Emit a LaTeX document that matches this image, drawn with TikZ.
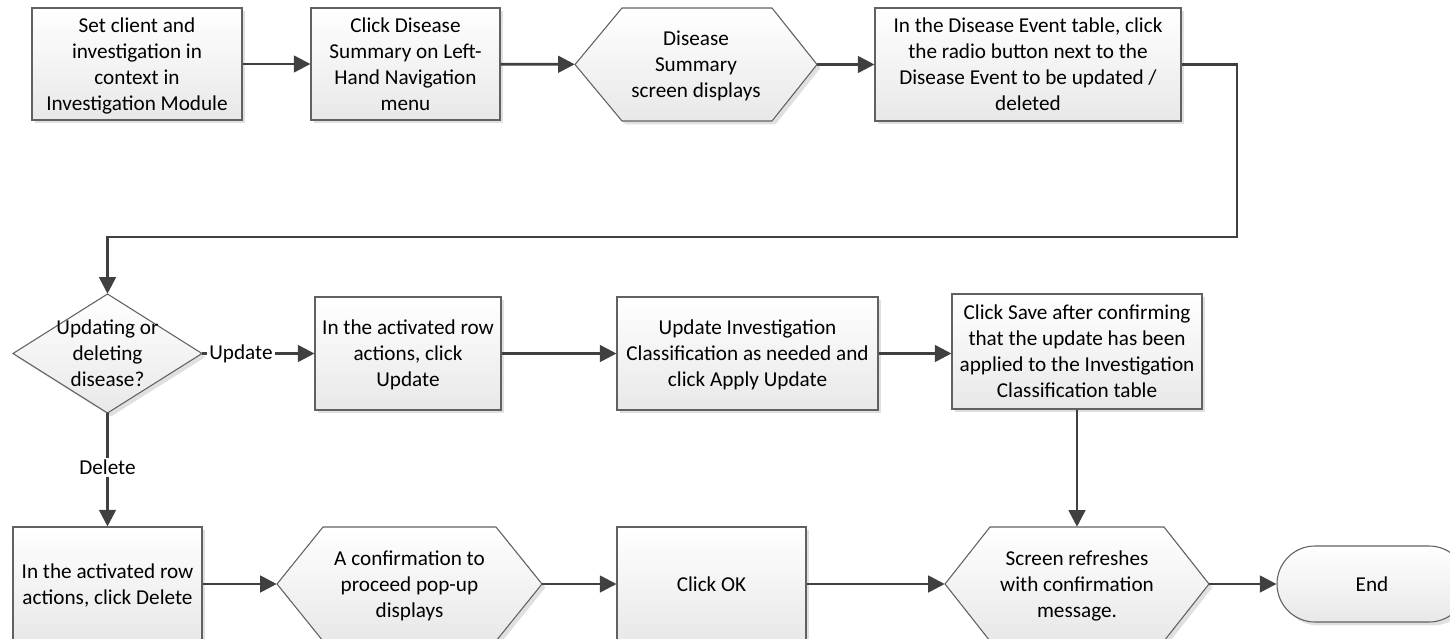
\documentclass[tikz,border=0pt]{standalone}
\usepackage{fontspec}
\setmainfont{Carlito}
\usetikzlibrary{arrows.meta,shadows}

\begin{document}
\begin{tikzpicture}[x=0.75pt,y=-0.75pt,
  every node/.style={font=\fontsize{15.9}{19.5}\selectfont, align=center, inner sep=0pt, text depth=0pt},
  shapefill/.style={draw=black!62, line width=0.8pt, top color=white, bottom color=black!9,
     drop shadow={shadow xshift=2.6pt, shadow yshift=-2.6pt, fill=black!12, opacity=1}},
  box/.style={shapefill, rectangle},
  sz/.style 2 args={minimum width=#1, minimum height=#2},
  flow/.style={draw=black!75, line width=2.1pt, -{Triangle[length=12.5pt,width=12.5pt]}},
  lbl/.style={fill=white, inner sep=1.5pt, text depth=},
]
\useasboundingbox (0,0) rectangle (1450,639);
\clip (0,0) rectangle (1450,639);
\fill[white] (0,0) rectangle (1450,639);

% ---- top row ----
\node[box, sz={157.5pt}{84pt}] (set) at (137,64) {Set client and\\investigation in\\context in\\Investigation Module};
\node[box, sz={141.75pt}{84pt}] (menu) at (405.5,64) {Click Disease\\Summary on Left-\\Hand Navigation\\menu};
\path[shapefill] (575,64.5) -- (622,8) -- (772,8) -- (817,64.5) -- (772,121) -- (622,121) -- cycle;
\node[sz={181.5pt}{84.75pt}] (sumscr) at (696,64.5) {Disease\\Summary\\screen displays};
\node[box, sz={229.5pt}{84.75pt}] (radio) at (1028,64.5) {In the Disease Event table, click\\the radio button next to the\\Disease Event to be updated /\\deleted};

% ---- decision and update branch ----
\path[shapefill] (13,353.5) -- (107.5,294) -- (202,353.5) -- (107.5,413) -- cycle;
\node[sz={141.75pt}{89.25pt}] (choice) at (107.5,353.5) {Updating or\\deleting\\disease?};
\node[box, sz={139.5pt}{84.75pt}] (actupd) at (408,353.5) {In the activated row\\actions, click\\Update};
\node[box, sz={195.75pt}{84.75pt}] (apply) at (747.5,353.5) {Update Investigation\\Classification as needed and\\click Apply Update};
\node[box, sz={187.5pt}{86.25pt}] (save) at (1077,351.5) {Click Save after confirming\\that the update has been\\applied to the Investigation\\Classification table};

% ---- delete branch and end ----
\node[box, sz={141.75pt}{85.5pt}] (actdel) at (107.5,584) {In the activated row\\actions, click Delete};
\path[shapefill] (277,584) -- (323,527) -- (496,527) -- (542,584) -- (496,641) -- (323,641) -- cycle;
\node[sz={198.75pt}{85.5pt}] (popup) at (409.5,584) {A confirmation to\\proceed pop-up\\displays};
\node[box, sz={141.75pt}{85.5pt}] (ok) at (711.5,584) {Click OK};
\path[shapefill] (945,584) -- (990,527) -- (1164,527) -- (1209,584) -- (1164,641) -- (990,641) -- cycle;
\node[sz={198pt}{85.5pt}] (refresh) at (1077,584) {Screen refreshes\\with confirmation\\message.};
\node[box, rounded corners=28.5pt, sz={142.5pt}{57pt}] (end) at (1372,584) {End};

% ---- connectors ----
\coordinate (loop) at (1237,237);
\draw[flow] (set) -- (menu);
\draw[flow] (menu) -- (sumscr);
\draw[flow] (sumscr) -- (radio);
\draw[flow] (radio.east) -| (loop) -| (choice.north);
\draw[flow] (choice.east) -- node[lbl,pos=0.345]{Update} (actupd.west);
\draw[flow] (actupd) -- (apply);
\draw[flow] (apply.east) -- (apply.east -| save.west);
\draw[flow] (save) -- (refresh);
\draw[flow] (choice.south) -- node[lbl,pos=0.48]{Delete} (actdel.north);
\draw[flow] (actdel) -- (popup);
\draw[flow] (popup) -- (ok);
\draw[flow] (ok) -- (refresh);
\draw[flow] (refresh) -- (end);
\end{tikzpicture}
\end{document}
